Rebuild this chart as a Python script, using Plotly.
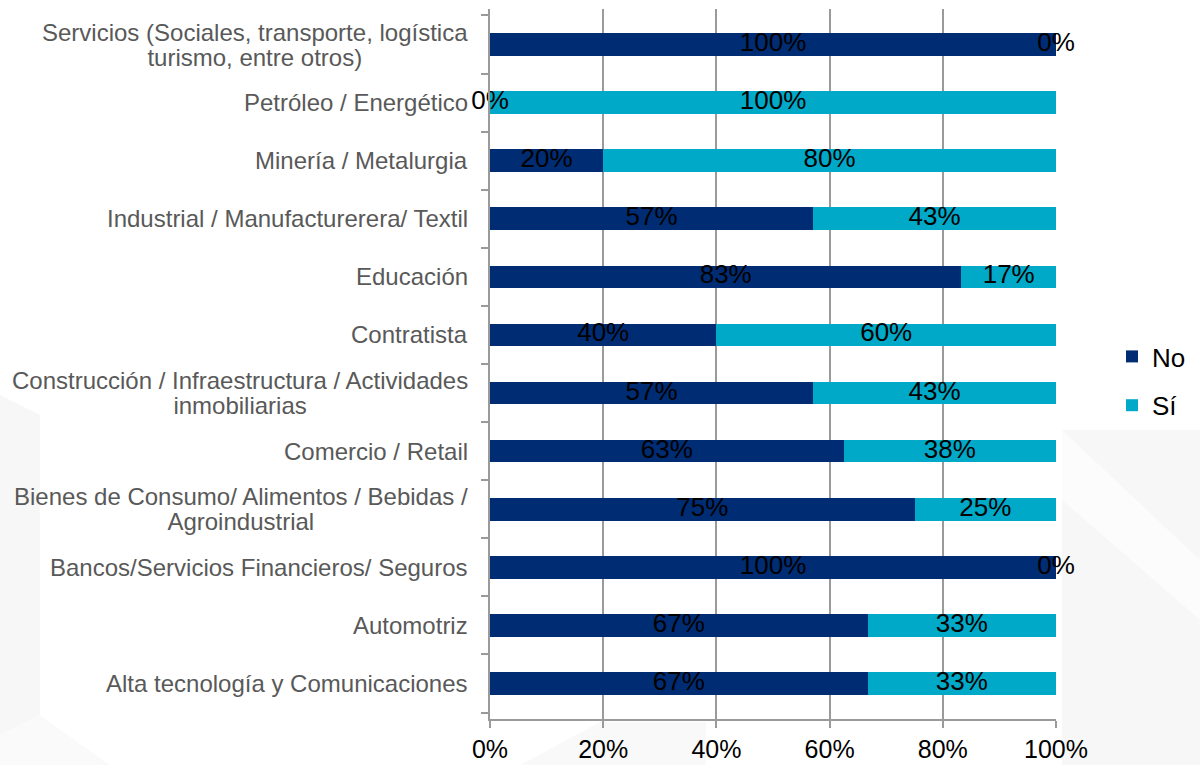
import plotly.graph_objects as go

# Sectors, listed bottom-to-top as drawn on the category axis
sectors = [
    "Alta tecnología y Comunicaciones",
    "Automotriz",
    "Bancos/Servicios Financieros/ Seguros",
    "Bienes de Consumo/ Alimentos / Bebidas /<br>Agroindustrial",
    "Comercio / Retail",
    "Construcción / Infraestructura / Actividades<br>inmobiliarias",
    "Contratista",
    "Educación",
    "Industrial / Manufacturerera/ Textil",
    "Minería / Metalurgia",
    "Petróleo / Energético",
    "Servicios (Sociales, transporte, logística<br>turismo, entre otros)",
]

# Share of answers per sector (percent)
no_pct = [66.7, 66.7, 100, 75, 62.5, 57.1, 40, 83.3, 57.1, 20, 0, 100]
si_pct = [33.3, 33.3, 0, 25, 37.5, 42.9, 60, 16.7, 42.9, 80, 100, 0]

series_names = ["No", "Sí"]
series_colors = ["#002C73", "#00A9C7"]

FONT = "Liberation Sans, Arial, sans-serif"
CAT_SIZE = 24
VAL_SIZE = 26
TICK_SIZE = 25

W, H = 1200, 765
M_L, M_R, M_T, M_B = 490, 144, 9, 46
PW, PH = W - M_L - M_R, H - M_T - M_B


def px(xp, yp):
    """Pixel position on the page -> paper coordinates."""
    return (xp - M_L) / PW, (H - M_B - yp) / PH


fig = go.Figure()

# Faint decorative backdrop
bg_polys = [
    ([(0, 395), (40, 415), (40, 715), (0, 735)], "rgba(0,0,0,0.03)"),
    ([(0, 735), (40, 715), (110, 765), (0, 765)], "rgba(0,0,0,0.018)"),
    ([(1062, 430), (1200, 430), (1200, 765), (1062, 765)], "rgba(0,0,0,0.03)"),
    ([(1062, 430), (1200, 560), (1200, 620), (1062, 500)], "rgba(255,255,255,0.6)"),
    ([(520, 765), (600, 722), (706, 722), (706, 765)], "rgba(0,0,0,0.025)"),
]
for pts, fill in bg_polys:
    path = "M " + " L ".join("%.4f %.4f" % px(a, b) for a, b in pts) + " Z"
    fig.add_shape(type="path", path=path, xref="paper", yref="paper",
                  fillcolor=fill, line=dict(width=0), layer="below")

for name, vals, color in zip(series_names, [no_pct, si_pct], series_colors):
    fig.add_trace(go.Bar(
        y=sectors, x=vals, name=name, orientation="h",
        marker=dict(color=color, line=dict(width=0)),
        legendgroup=name, hoverinfo="skip",
    ))

# Data labels centred on each stacked segment (also shown for empty segments)
for vals, base in [(no_pct, [0] * len(no_pct)), (si_pct, no_pct)]:
    fig.add_trace(go.Scatter(
        y=sectors, x=[b + v / 2 for b, v in zip(base, vals)],
        mode="text", text=list(vals), texttemplate="%{text:.0f}%",
        textposition="middle center",
        textfont=dict(family=FONT, size=VAL_SIZE, color="#000000"),
        showlegend=False, hoverinfo="skip", cliponaxis=False,
    ))

# Category labels: centred multi-line text, right edge next to the axis.
# The smaller base size sets the line pitch; the span sets glyph size.
for s in sectors:
    fig.add_annotation(
        x=0, xref="paper", y=s, yref="y", xanchor="right", yanchor="middle",
        xshift=-20, align="center", showarrow=False,
        text="<br>".join('<span style="font-size:%dpx">%s</span>' % (CAT_SIZE, part)
                         for part in s.split("<br>")),
        font=dict(family=FONT, size=19.5, color="#595959"),
    )

fig.update_layout(
    template="none",
    width=W, height=H,
    margin=dict(l=M_L, r=M_R, t=M_T, b=M_B, autoexpand=False),
    barmode="stack", bargap=0.61,
    paper_bgcolor="white", plot_bgcolor="rgba(0,0,0,0)",
    font=dict(family=FONT, size=VAL_SIZE, color="#000000"),
    legend=dict(
        x=px(1112, 0)[0], xanchor="left", y=px(0, 381)[1], yanchor="middle",
        traceorder="grouped", tracegroupgap=12,
        font=dict(family=FONT, size=VAL_SIZE, color="#000000"),
        bgcolor="rgba(0,0,0,0)", itemwidth=30,
    ),
    xaxis=dict(
        range=[0, 100], tickvals=[0, 20, 40, 60, 80, 100],
        ticktext=["0%", "20%", "40%", "60%", "80%", "100%"],
        showgrid=True, gridcolor="#9a9a9a", gridwidth=1.5,
        showline=True, linecolor="#9a9a9a", linewidth=1.5,
        ticks="outside", ticklen=7, tickcolor="#9a9a9a", tickwidth=1.5,
        tickfont=dict(family=FONT, size=TICK_SIZE, color="#000000"),
        zeroline=False, fixedrange=True, automargin=False,
    ),
    yaxis=dict(
        showticklabels=False, showline=True, linecolor="#9a9a9a", linewidth=1.5,
        ticks="outside", tickson="boundaries", ticklen=7, tickcolor="#9a9a9a",
        tickwidth=1.5, showgrid=False, zeroline=False, fixedrange=True,
        automargin=False,
        categoryorder="array", categoryarray=sectors,
    ),
    showlegend=True,
)

fig.write_html("out.html")
